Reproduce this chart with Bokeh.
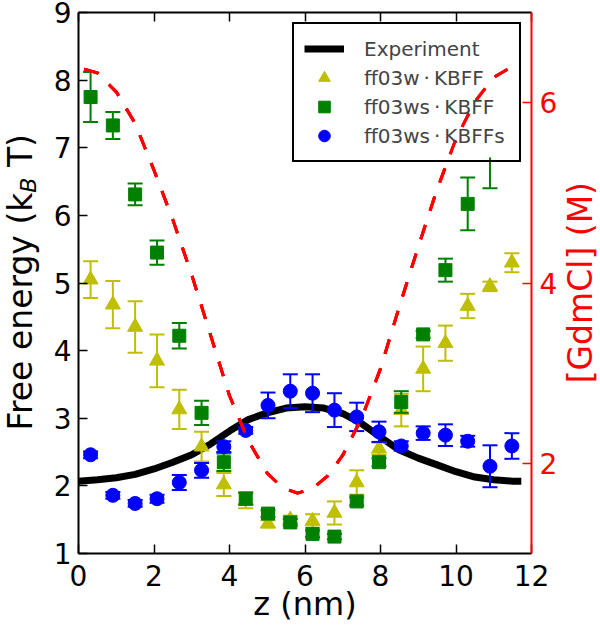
from bokeh.plotting import figure
from bokeh.layouts import row
from bokeh.models import (Range1d, LinearAxis, FixedTicker, ColumnDataSource,
                          Legend, LegendItem, Div, Band, BoxAnnotation)
from bokeh.embed import file_html
from bokeh.resources import INLINE

# ---------------- data ----------------
z_sim = [0.32, 0.91, 1.50, 2.08, 2.67, 3.26, 3.85, 4.43, 5.02, 5.61,
         6.20, 6.78, 7.37, 7.96, 8.55, 9.13, 9.72, 10.31, 10.90, 11.48]

# ff03w·KBFF (yellow triangles)
ff03w_f = [5.05, 4.68, 4.35, 3.85, 3.13, 2.58, 2.02, 1.79, 1.44, 1.50,
           1.48, 1.60, 2.05, 2.55, 3.12, 3.73, 4.11, 4.66, 4.95, 5.30]
ff03w_e = [0.27, 0.35, 0.38, 0.39, 0.29, 0.22, 0.17, 0.12, 0.05, 0.06,
           0.10, 0.17, 0.18, 0.09, 0.24, 0.33, 0.26, 0.18, 0.07, 0.14]

# ff03ws·KBFF (green squares) - last visible point mostly hidden by legend
ff03ws_z = z_sim[:19]
ff03ws_f = [7.75, 7.33, 6.31, 5.45, 4.22, 3.08, 2.35, 1.81, 1.59, 1.46,
            1.29, 1.25, 1.77, 2.35, 3.24, 4.24, 5.19, 6.17, 7.00]
ff03ws_e = [0.37, 0.20, 0.16, 0.18, 0.19, 0.18, 0.13, 0.09, 0.05, 0.05,
            0.05, 0.04, 0.06, 0.06, 0.16, 0.05, 0.17, 0.39, 0.60]

# ff03ws·KBFFs (blue circles)
kbffs_f = [2.46, 1.86, 1.74, 1.81, 2.05, 2.23, 2.58, 2.82, 3.19, 3.40,
           3.37, 3.12, 3.02, 2.80, 2.59, 2.78, 2.75, 2.66, 2.29, 2.59]
kbffs_e = [0.05, 0.05, 0.05, 0.06, 0.11, 0.11, 0.08, 0.05, 0.19, 0.25,
           0.28, 0.25, 0.21, 0.15, 0.07, 0.10, 0.16, 0.08, 0.31, 0.19]

# Experiment
exp_z = [0.0, 0.5, 1.0, 1.5, 2.0, 2.5, 3.0, 3.5, 4.0, 4.5, 5.0, 5.5, 6.0,
         6.5, 7.0, 7.5, 8.0, 8.5, 9.0, 9.5, 10.0, 10.5, 11.0, 11.5, 11.73]
exp_f = [2.07, 2.09, 2.12, 2.17, 2.25, 2.35, 2.46, 2.62, 2.81, 2.98, 3.08,
         3.15, 3.17, 3.15, 3.07, 2.92, 2.72, 2.53, 2.41, 2.31, 2.21, 2.13,
         2.09, 2.07, 2.07]

# [GdmCl] profile (right axis)
gdm_z = [0.15, 0.5, 1.0, 1.5, 2.0, 2.5, 3.0, 3.5, 4.0, 4.5, 5.0, 5.4, 5.8,
         6.2, 6.6, 7.0, 7.5, 8.0, 8.5, 9.0, 9.5, 10.0, 10.5, 11.0, 11.4]
gdm_c = [6.37, 6.33, 6.12, 5.77, 5.25, 4.70, 4.09, 3.42, 2.75, 2.25, 1.89,
         1.73, 1.67, 1.72, 1.86, 2.09, 2.50, 3.05, 3.74, 4.40, 5.04, 5.60,
         6.01, 6.28, 6.38]

x_ticks = [0, 2, 4, 6, 8, 10, 12]
y_ticks = [1, 2, 3, 4, 5, 6, 7, 8, 9]
gdm_ticks = [2, 4, 6]

YELLOW = "#bfbf00"
GREEN = "#008000"
BLUE = "#0000ff"
RED = "#ff0000"
FONT = "DejaVu Sans"

# ---------------- figure ----------------
W, H = 520, 630
BL, BR, BT, BB = 38, 29, 12, 77
p = figure(width=W, height=H, x_range=Range1d(0, 12), y_range=Range1d(1, 9),
           output_backend="svg", toolbar_location=None,
           min_border_left=BL, min_border_right=BR, min_border_top=BT,
           min_border_bottom=BB, margin=0)
p.extra_y_ranges = {"gdm": Range1d(1, 7)}
p.grid.visible = False
p.outline_line_color = None
p.background_fill_color = "white"
p.border_fill_color = "white"


def style_axis(ax, color="black", labels=True):
    ax.axis_line_color = color
    ax.axis_line_width = 2
    ax.major_tick_line_color = color
    ax.major_tick_line_width = 1.5
    ax.major_tick_in = 9
    ax.major_tick_out = 0
    ax.minor_tick_line_color = None
    ax.major_label_text_font = FONT
    ax.major_label_text_color = color
    ax.major_label_text_font_size = "28px" if labels else "1px"
    if not labels:
        ax.major_label_text_alpha = 0
        ax.major_label_standoff = 0


p.xaxis.ticker = FixedTicker(ticks=x_ticks)
p.yaxis.ticker = FixedTicker(ticks=y_ticks)
style_axis(p.xaxis[0])
style_axis(p.yaxis[0])
p.xaxis.major_label_standoff = 11
p.yaxis.major_label_standoff = 7
p.xaxis.axis_label = "z (nm)"
p.xaxis.axis_label_text_font = FONT
p.xaxis.axis_label_text_font_size = "32px"
p.xaxis.axis_label_text_font_style = "normal"
p.xaxis.axis_label_text_color = "black"
p.xaxis.axis_label_standoff = -4

right = LinearAxis(y_range_name="gdm", ticker=FixedTicker(ticks=gdm_ticks))
style_axis(right, RED)
right.major_label_standoff = 8
p.add_layout(right, "right")

top = LinearAxis(ticker=FixedTicker(ticks=x_ticks))
style_axis(top, "black", labels=False)
p.add_layout(top, "above")

# ---------------- data marks ----------------
r_exp = p.line(exp_z, exp_f, line_width=7, line_color="black")


def series(zs, fs, es, color, marker, size):
    src = ColumnDataSource(dict(z=zs, f=fs,
                                lo=[f - e for f, e in zip(fs, es)],
                                hi=[f + e for f, e in zip(fs, es)]))
    p.segment("z", "lo", "z", "hi", source=src, line_color=color, line_width=2)
    p.scatter("z", "hi", source=src, marker="dash", size=15, line_color=color, line_width=2)
    p.scatter("z", "lo", source=src, marker="dash", size=15, line_color=color, line_width=2)
    return p.scatter("z", "f", source=src, marker=marker, size=size,
                     fill_color=color, line_color=color)


r_w = series(z_sim, ff03w_f, ff03w_e, YELLOW, "triangle", 15)
r_ws = series(ff03ws_z, ff03ws_f, ff03ws_e, GREEN, "square", 13)
r_wss = series(z_sim, kbffs_f, kbffs_e, BLUE, "circle", 14)

gdm_src = ColumnDataSource(dict(z=gdm_z, c=gdm_c))
p.line("z", "c", source=gdm_src, y_range_name="gdm", line_color=RED,
       line_width=3, line_dash="15 15")

# ---------------- legend ----------------
LEG_MARGIN, LEG_PAD, GLYPH_W, GLYPH_H, STANDOFF, LABEL_W = 10, 10, 40, 29, 20, 145
n_items = 4
frame_w = W - BL - BR
frame_h = H - BT - BB
leg_w = 2 * LEG_PAD + GLYPH_W + STANDOFF + LABEL_W
leg_h = 2 * LEG_PAD + n_items * GLYPH_H

# opaque white legend background (hides data behind it) ...
p.add_layout(BoxAnnotation(
    left=frame_w - LEG_MARGIN - leg_w + 1, right=frame_w - LEG_MARGIN - 1,
    top=frame_h - LEG_MARGIN - 1, bottom=frame_h - LEG_MARGIN - leg_h + 1,
    left_units="screen", right_units="screen", top_units="screen",
    bottom_units="screen", fill_color="white", fill_alpha=1,
    line_color=None))
# ... with the dashed GdmCl curve drawn over it, as in the reference
p.add_layout(Band(source=gdm_src, base="z", lower="c", upper="c",
                  y_range_name="gdm", fill_alpha=0, fill_color=None,
                  line_color=RED, line_alpha=1, line_width=3,
                  line_dash="15 15", level="overlay"))

legend = Legend(items=[
    LegendItem(label="Experiment", renderers=[r_exp]),
    LegendItem(label="ff03w\u2009\u00b7\u2009KBFF", renderers=[r_w]),
    LegendItem(label="ff03ws\u2009\u00b7\u2009KBFF", renderers=[r_ws]),
    LegendItem(label="ff03ws\u2009\u00b7\u2009KBFFs", renderers=[r_wss]),
], location="top_right", margin=LEG_MARGIN, padding=LEG_PAD, spacing=0,
    glyph_height=GLYPH_H, glyph_width=GLYPH_W, label_height=GLYPH_H,
    label_width=LABEL_W, label_standoff=STANDOFF, label_text_font=FONT,
    label_text_font_size="20px", border_line_color="black",
    border_line_width=2, border_line_alpha=1,
    background_fill_color="white", background_fill_alpha=0)
p.add_layout(legend)

# ---------------- vertical axis titles ----------------
left_title = Div(width=40, height=630, margin=0, text=(
    '<div style="height:565px;width:40px;display:flex;align-items:center;'
    'justify-content:flex-start;margin-left:-3px;">'
    '<span style="writing-mode:vertical-rl;transform:rotate(180deg);'
    'font-family:\'DejaVu Sans\';font-size:33px;color:black;white-space:nowrap;">'
    'Free energy (k<sub style="font-style:italic;font-size:22px;">B</sub> T)'
    '</span></div>'))

right_title = Div(width=40, height=630, margin=0, text=(
    '<div style="height:565px;width:40px;display:flex;align-items:center;'
    'justify-content:flex-start;margin-left:-3px;">'
    '<span style="writing-mode:vertical-rl;transform:rotate(180deg);'
    'font-family:\'DejaVu Sans\';font-size:33px;color:#ff0000;white-space:nowrap;">'
    '[GdmCl] (M)</span></div>'))

layout = row(left_title, p, right_title, spacing=0)

open("out.html", "w").write(file_html(layout, INLINE))
